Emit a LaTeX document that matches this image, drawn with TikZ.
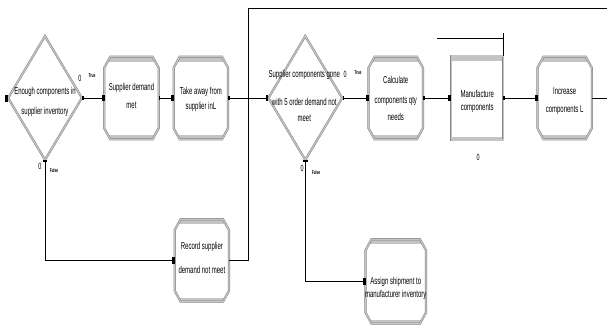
\documentclass[tikz,border=0pt]{standalone}
\usepackage{fontspec}
\newfontfamily\arenafont{Liberation Sans}[FakeStretch=0.6]
\usetikzlibrary{shapes.geometric, arrows.meta, positioning}
\definecolor{aEdge}  {HTML}{858585}
\definecolor{aBevel} {HTML}{C4C4C4}

% octagon outline of a process module around node #1
\newcommand\octpath[1]{([xshift=6pt]#1.north west) -- ([xshift=-6pt]#1.north east)
  -- ([yshift=-11pt]#1.north east) -- ([yshift=11pt]#1.south east)
  -- ([xshift=-6pt]#1.south east) -- ([xshift=6pt]#1.south west)
  -- ([yshift=11pt]#1.south west) -- ([yshift=-11pt]#1.north west) -- cycle}

\tikzset{
  module/.style={draw=aEdge, double=aBevel, double distance=1.2pt,
                 line width=0.5pt, inner sep=0pt},
  procbox/.style={rectangle, minimum width=54pt, minimum height=82pt, inner sep=0pt},
  mfgbox/.style={module, rectangle, minimum width=52pt, minimum height=84pt,
                 path picture={\fill[aBevel] (path picture bounding box.north west)
                   rectangle ([yshift=-5pt]path picture bounding box.north east);
                   \fill[aBevel] (path picture bounding box.south west)
                   rectangle ([yshift=3pt]path picture bounding box.south east);}},
  decide/.style={module, diamond, minimum width=74pt, minimum height=124pt},
  txt/.style={font=\arenafont\fontsize{10}{12}\selectfont, align=center, inner sep=0pt},
  flag/.style={font=\arenafont\bfseries\fontsize{5.5}{5.5}\selectfont, inner sep=0pt},
  cnt/.style={font=\arenafont\fontsize{9}{9}\selectfont, inner sep=0pt},
  port/.style={fill=black, minimum width=3pt, minimum height=7pt, inner sep=0pt},
  link/.style={line width=0.7pt,
               {Rectangle[length=1.5pt,width=4pt]}-{Rectangle[length=2.5pt,width=6pt]}},
  wire/.style={line width=0.7pt}
}

\begin{document}
\begin{tikzpicture}[x=1pt, y=-1pt]
  \path[use as bounding box, fill=white] (0,0) rectangle (607,333);

  % top row
  \node[decide] (dec1) at (45,98) {};
  \node[port] (in1) at (6,98) {};
  \node[procbox, right=22pt of dec1] (sdm) {};
  \node[procbox, right=15pt of sdm] (take) {};
  \node[decide, right=40pt of take] (dec2) {};
  \node[procbox, right=26pt of dec2] (calc) {};
  \node[mfgbox, right=28pt of calc] (mfg) {};
  \node[procbox, right=34pt of mfg] (inc) {};

  % bottom row
  \node[procbox, below=80pt of take, xshift=1pt] (rec) {};
  \node[procbox, below=100pt of calc, minimum width=60pt, minimum height=84pt] (asg) {};

  % process module outlines
  \foreach \n in {sdm,take,calc,inc,rec,asg}{
    \begin{scope}
      \clip \octpath{\n};
      \fill[white] (\n.north west) rectangle (\n.south east);
      \fill[aBevel] (\n.north west) rectangle ([yshift=-5pt]\n.north east);
      \fill[aBevel] (\n.south west) rectangle ([yshift=4pt]\n.south east);
    \end{scope}
    \draw[module] \octpath{\n};
  }

  % texts
  \node[txt] (dec1T) at ([yshift=-4pt]dec1) {Enough components in\\[8pt]supplier inventory};
  \node[txt] (sdmT) at ([yshift=2pt]sdm) {Supplier demand\\[6pt]met};
  \node[txt] (takeT) at ([yshift=-1.5pt]take) {Take away from\\[3pt]supplier inL};
  \node[txt] (dec2T) at ([yshift=2pt, xshift=-1pt]dec2) {Supplier components gone\\[16pt]with 5 order demand not\\[4pt]meet};
  \node[txt] (calcT) at (calc) {Calculate\\[8pt]components qty\\[5pt]needs};
  \node[txt] (mfgT) at ([yshift=-3.5pt]mfg) {Manufacture\\[1pt]components};
  \node[txt] (incT) at ([yshift=-3pt]inc) {Increase\\[6pt]components L};
  \node[txt] (recT) at ([yshift=2pt]rec) {Record supplier\\[12pt]demand not meet};
  \node[txt] (asgT) at ([yshift=-7.5pt]asg) {Assign shipment to\\[1pt]manufacturer inventory};

  % branch labels and counters
  \node[cnt]  (c1t) at (80,78) {0};
  \node[flag] (f1t) at (92,76) {True};
  \node[cnt]  (c1f) at (40,166) {0};
  \node[flag] (f1f) at (54,171) {False};
  \node[cnt]  (c2t) at (345,74) {0};
  \node[flag] (f2t) at (358,73) {True};
  \node[cnt]  (c2f) at (302,168) {0};
  \node[flag] (f2f) at (316,173) {False};
  \node[cnt]  (cmf) at (478,157) {0};

  % free ends
  \coordinate (outR)   at (607,98);
  \coordinate (loopT)  at (248,8);
  \coordinate (loopE)  at (607,8);
  \coordinate (mfgIn)  at (437,38);
  \coordinate (mfgTop) at (503,33);

  % connectors
  \draw[link] (dec1.east) -- (sdm.west);
  \draw[link] (sdm.east)  -- (take.west);
  \draw[link] (take.east) -- (dec2.west);
  \draw[link] (dec2.east) -- (calc.west);
  \draw[link] (calc.east) -- (mfg.west);
  \draw[link] (mfg.east)  -- (inc.west);
  \draw[wire] (inc.east)  -- (outR);
  \draw[link] (dec1.south) |- (rec.west);
  \draw[link] (dec2.south) |- (asg.west);
  \draw[wire] (rec.east) -| (loopT) -- (loopE);
  \draw[wire] (mfgIn) -| (mfg.north east);
  \draw[wire] (mfgTop) -- (mfgTop |- mfgIn);
\end{tikzpicture}
\end{document}
